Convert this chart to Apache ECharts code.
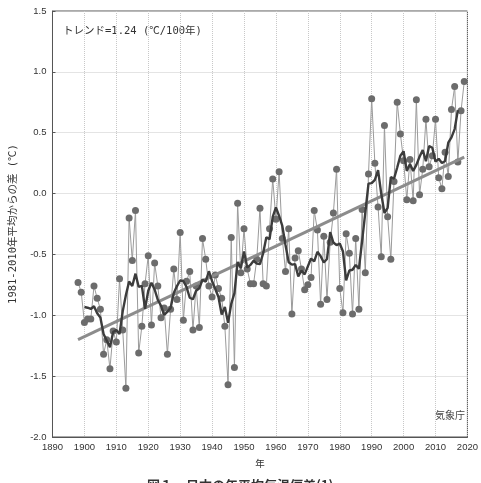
<!DOCTYPE html>
<html>
<head>
<meta charset="utf-8">
<script src="https://cdn.jsdelivr.net/npm/echarts@6/dist/echarts.min.js"></script>
<style>
  html, body { margin: 0; padding: 0; background: #fff; }
  #chart { width: 481px; height: 483px; }
</style>
</head>
<body>
<div id="chart"></div>
<script>
// 日本の年平均気温偏差（1981-2010年平均からの差, ℃）
var startYear = 1898;
var anomaly = [
  -0.73, -0.81,                                                  // 1898-1899
  -1.06, -1.03, -1.03, -0.76, -0.86, -0.95, -1.32, -1.20, -1.44, -1.13, // 1900s
  -1.22, -0.70, -1.12, -1.60, -0.20, -0.55, -0.14, -1.31, -1.09, -0.74, // 1910s
  -0.51, -1.08, -0.57, -0.76, -1.02, -0.94, -1.32, -0.95, -0.62, -0.87, // 1920s
  -0.32, -1.04, -0.72, -0.64, -1.12, -0.76, -1.10, -0.37, -0.54, -0.76, // 1930s
  -0.85, -0.67, -0.78, -0.86, -1.09, -1.57, -0.36, -1.43, -0.08, -0.65, // 1940s
  -0.29, -0.62, -0.74, -0.74, -0.54, -0.12, -0.74, -0.76, -0.29,  0.12, // 1950s
  -0.21,  0.18, -0.37, -0.64, -0.29, -0.99, -0.53, -0.47, -0.62, -0.79, // 1960s
  -0.75, -0.69, -0.14, -0.30, -0.91, -0.35, -0.87, -0.40, -0.16,  0.20, // 1970s
  -0.78, -0.98, -0.33, -0.49, -0.99, -0.37, -0.95, -0.13, -0.65,  0.16, // 1980s
   0.78,  0.25, -0.11, -0.52,  0.56, -0.19, -0.54,  0.10,  0.75,  0.49, // 1990s
   0.27, -0.05,  0.28, -0.06,  0.77, -0.01,  0.20,  0.61,  0.22,  0.31, // 2000s
   0.61,  0.13,  0.04,  0.34,  0.14,  0.69,  0.88,  0.26,  0.68,  0.92  // 2010s
];
// 長期変化傾向（直線）の両端
var trendYears = [1898, 2019];
var trendValues = [-1.20, 0.30];
var xTicks = [1890, 2020];
var yTicks = [-2.0, 1.5];

var annual = anomaly.map(function (v, i) { return [startYear + i, v]; });

// 5年移動平均（中心）
var mean5 = [];
for (var i = 2; i < anomaly.length - 2; i++) {
  var s = 0;
  for (var k = -2; k <= 2; k++) s += anomaly[i + k];
  mean5.push([startYear + i, +(s / 5).toFixed(3)]);
}
var trend = trendYears.map(function (y, i) { return [y, trendValues[i]]; });

var myChart = echarts.init(document.getElementById('chart'));

var labelFont = { color: '#333', fontSize: 9.5, fontFamily: 'Liberation Sans' };
var monoJP = '"DejaVu Sans Mono", "Noto Sans CJK JP"';

option = {
  animation: false,
  backgroundColor: '#fff',
  grid: {
    left: 49, right: 8, top: 11, bottom: 46,
    show: true, borderColor: '#555', borderWidth: 1
  },
  xAxis: {
    type: 'value',
    min: xTicks[0], max: xTicks[1], interval: 10,
    name: '年', nameLocation: 'middle', nameGap: 22,
    nameTextStyle: { color: '#333', fontSize: 9.5, fontFamily: 'Noto Sans CJK JP' },
    axisLine: { show: true, onZero: false, lineStyle: { color: '#555' } },
    axisTick: { show: false },
    axisLabel: Object.assign({ margin: 5, formatter: function (v) { return String(v); } }, labelFont),
    splitLine: { show: true, lineStyle: { color: '#c8c8c8', type: 'dotted', width: 1 } }
  },
  yAxis: {
    type: 'value',
    min: yTicks[0], max: yTicks[1], interval: 0.5,
    name: '1981-2010年平均からの差 (℃)', nameLocation: 'middle', nameGap: 34,
    nameRotate: 90,
    nameTextStyle: { color: '#333', fontSize: 10.5, fontFamily: monoJP },
    axisLine: { show: true, onZero: false, lineStyle: { color: '#555' } },
    axisTick: { show: true, inside: true, length: 3, lineStyle: { color: '#555' } },
    axisLabel: Object.assign({ margin: 6, formatter: function (v) { return v.toFixed(1); } }, labelFont),
    splitLine: { show: true, lineStyle: { color: '#c8c8c8', type: 'dotted', width: 1 } }
  },
  graphic: [
    {
      type: 'text', left: 63, top: 26,
      style: { text: 'トレンド=1.24 (℃/100年)', fill: '#333', font: '10.5px ' + monoJP }
    },
    {
      type: 'text', left: 435, top: 410,
      style: { text: '気象庁', fill: '#444', font: '10px "Noto Sans CJK JP"' }
    },
    {
      type: 'text', left: 147, top: 479,
      style: { text: '図１　日本の年平均気温偏差(1)', fill: '#333', font: 'bold 13px "Noto Sans CJK JP"' }
    }
  ],
  series: [
    {
      name: '年平均',
      type: 'line',
      data: annual,
      symbol: 'circle',
      symbolSize: 7,
      lineStyle: { color: '#9b9b9b', width: 1 },
      itemStyle: { color: '#6c6c6c' },
      z: 2
    },
    {
      name: 'トレンド',
      type: 'line',
      data: trend,
      showSymbol: false,
      lineStyle: { color: '#8c8c8c', width: 3 },
      z: 3
    },
    {
      name: '5年移動平均',
      type: 'line',
      data: mean5,
      showSymbol: false,
      lineStyle: { color: '#3c3c3c', width: 2.4 },
      z: 4
    }
  ]
};

myChart.setOption(option);
</script>
</body>
</html>
